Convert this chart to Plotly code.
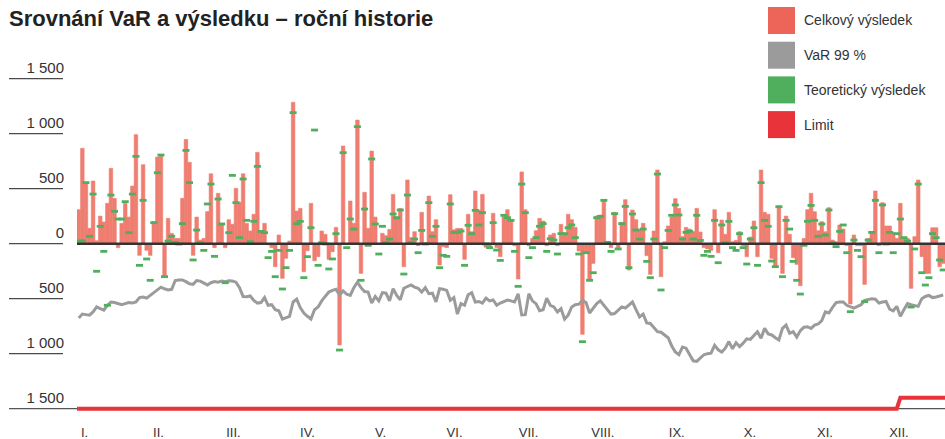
import plotly.graph_objects as go

title_text = "Srovnání VaR a výsledku – roční historie"
series_names = ["Celkový výsledek", "VaR 99 %", "Teoretický výsledek", "Limit"]
series_colors = ["#EC6558", "#9B9B9B", "#4FAF5C", "#E8333A"]

celkovy_vysledek = [
    309, 867, 557, 140, 570, 27, 251, 197, 367, 685, 412, -36, 185, 367, 242, 524, 991, -106, 718, -60,
    -106, 200, 788, 800, -300, 230, 94, 48, 48, 412, 948, 739, -106, 242, 33, 48, 291, 636, -36, 458,
    185, -36, 218, 176, 503, 376, 636, 185,
    115, 267, 830, 115, 185, -10, -36, -209, 79, -315, -133, 24, 1285, 297, 321, -255, -64, 367, -155, -118,
    115, 85, -142, -73, 148, -921, 888, -5, 388, 185, 1124, -270, 467, 139, 842, 242, 0, 94, 73, 130,
    448, 245, 321, -209, 579, 55, 109, -18, 285,
    10, 433, 109, 218, -194, -27, -36, 445, 127, 139, 139, -142, 267, 109, 479, 306, 448, -33, -42, 276,
    -36, -118, 248, 309, 218, -18, -321, 652, 309, -18, 48, 118, 230, 206, -18, 79, 94, -18, 176, 94,
    267, 218, 148, -67, -824, -73, -330, -179, 251,
    261, 397, -6, -36, 285, -48, 194, 400, -239, 306, 218, 124, 185, -109, -279, 115, 670, -300, 18, 161,
    245, 409, 321, 64, 148, 133, 109, 321, 106, -36, -48, -61, 309, -82, 215, 85, 285, 18, 30, 109,
    -18, -118, 60, 206, -118, 670, 285, 267,
    -133, -209, 342, -270, 251, 85, -127, -188, -382, 48, 309, 458, 291, 118, 200, 109, 327, 33, 18, 170,
    133, -18, -548, 79, -18, -18, -370, 48, 109, 479, -18, 373, 161, 161, 103, 48, 367, 48, 48, -406,
    64, 579, -118, -270, -270, 145, 145, -209, -179,
]

teoreticky_vysledek = [
    24, 24, 555, 67, 451, -251, 158, -70, -560, 442, 294, 224, 224, 382, 100, 451, 794, -197, 394, -139,
    -333, 191, 645, 806, -300, 24, 67, 12, -3, 182, 848, 555, -148, 124, 9, -61, 361, 542, -115, 406,
    179, -355, 100, 621, 373, 55, 588, 212,
    18, 203, 703, 112, 100, -127, -70, -300, -61, -412, -218, -61, 1191, 182, 203, -309, -118, 145, 1033, -197,
    9, -3, -230, -139, 91, -967, 827, -36, 224, 133, 1064, -333, 315, -15, 770, 179, -94, 158, 9, 42,
    270, 236, 306, -276, 442, 9, 42, -82, 121,
    -3, 373, 67, 158, -218, -106, -115, 361, 103, 103, 115, -197, 167, 91, 303, 170, 282, -3, -36, 191,
    -58, -152, 258, 236, 212, -70, -388, 542, 282, -127, -36, 55, 158, 182, -70, 45, 33, -94, 91, 91,
    145, 170, 55, -94, -891, -82, -333, -264, 236,
    248, 394, 12, -70, 273, -48, 182, 339, -218, 270, 124, 42, 133, -161, -309, 42, 633, -421, -36, 121,
    258, 352, 261, 42, 103, 112, 42, 258, 30, -106, -70, -115, 212, -173, 170, 9, 203, -36, -61, 91,
    -36, -185, 42, 145, -197, 555, 212, 158,
    -158, -209, 336, -300, 212, 133, -161, -333, -458, -15, 203, 348, 212, 67, 179, 79, 306, 9, -27, 112,
    170, -82, -618, 33, -61, -118, -527, 33, 103, 394, -82, 352, -3, 103, -82, 91, 224, 55, 24, -576,
    -48, 542, -264, -376, -309, 91, 55, -148, -239,
]

var_99 = [
    -675, -640, -645, -650, -620, -575, -590, -605, -560, -530,
    -535, -545, -555, -545, -535, -540, -530, -490, -485, -495,
    -470, -440, -420, -395, -410, -420, -415, -335, -330, -330,
    -345, -365, -370, -335, -340, -355, -375, -355, -345, -350,
    -340, -345, -338, -340, -350, -400, -480, -482, -475,
    -515, -540, -535, -490, -560, -555, -600, -610, -685, -670,
    -660, -530, -505, -580, -630, -660, -685, -600, -575, -520,
    -475, -440, -425, -415, -465, -430, -460, -470, -400, -350,
    -400, -435, -440, -540, -480, -520, -445, -450, -520, -410,
    -470, -510, -405, -390, -375, -395, -405, -440,
    -400, -455, -450, -530, -410, -415, -425, -515, -490, -640,
    -545, -560, -465, -445, -530, -525, -540, -495, -520, -512,
    -560, -540, -525, -512, -520, -530, -455, -648, -645, -455,
    -520, -545, -610, -600, -495, -560, -575, -620, -590, -685,
    -650, -575, -555, -550, -515, -535, -630, -590, -545,
    -520, -560, -600, -640, -635, -605, -575, -585, -560, -530,
    -600, -665, -640, -720, -725, -760, -800, -805, -830, -855,
    -930, -985, -1010, -940, -950, -1010, -1065, -1070, -1035, -1010,
    -1000, -995, -925, -965, -985, -950, -890, -955, -900, -935,
    -905, -865, -870, -830, -800, -860, -770, -820,
    -830, -855, -875, -770, -740, -815, -800, -850, -790, -760,
    -755, -770, -740, -730, -700, -620, -630, -580, -535, -530,
    -530, -560, -575, -585, -570, -555, -515, -510, -500, -505,
    -540, -530, -525, -595, -610, -570, -660, -600, -545, -555,
    -565, -570, -500, -480, -470, -490, -485, -473, -467,
]

limit_days = [-0.5, 229.0, 230.0, 242.5]
limit_values = [-1500, -1500, -1400, -1400]

month_labels = ["I.", "II.", "III.", "IV.", "V.", "VI.", "VII.", "VIII.", "IX.", "X.", "XI.", "XII."]
month_positions = [1.6, 22.3, 43.3, 64.0, 84.5, 105.2, 125.9, 146.7, 167.4, 187.9, 208.9, 229.6]

y_tick_values = [-1500, -1000, -500, 0, 500, 1000, 1500]
y_tick_labels = ["1 500", "1 000", "500", "0", "500", "1 000", "1 500"]

# ---- layout geometry (pixels) ----
W, H = 945, 439
ML, MR, MT, MB = 77, 0, 70, 19
PW, PH = W - ML - MR, H - MT - MB


def px(x):
    return (x - ML) / PW


def py(y):
    return (H - MB - y) / PH


FONT = "Liberation Sans, Arial, sans-serif"
n_days = len(celkovy_vysledek)
bar_color = "rgb(239,125,112)"

fig = go.Figure()
fig.add_trace(go.Bar(
    x=list(range(len(celkovy_vysledek))), y=celkovy_vysledek, name=series_names[0],
    marker=dict(color=bar_color, line=dict(width=0.6, color=bar_color)), showlegend=False,
))
fig.add_trace(go.Scatter(
    x=list(range(len(var_99))), y=var_99, name=series_names[1], mode="lines",
    line=dict(color=series_colors[1], width=3), showlegend=False,
))
fig.add_trace(go.Scatter(
    x=list(range(len(teoreticky_vysledek))), y=teoreticky_vysledek, name=series_names[2], mode="markers",
    marker=dict(symbol="line-ew", size=5, line=dict(color=series_colors[2], width=2.8)), showlegend=False,
))
fig.add_trace(go.Scatter(
    x=limit_days, y=limit_values, name=series_names[3], mode="lines",
    line=dict(color=series_colors[3], width=4), showlegend=False,
))

shapes = []
for v in y_tick_values:
    if v == y_tick_values[0]:
        shapes.append(dict(type="line", xref="paper", yref="y", x0=px(9), x1=1, y0=v, y1=v,
                           line=dict(color="#555555", width=1.4), layer="below"))
    else:
        shapes.append(dict(type="line", xref="paper", yref="y", x0=px(9), x1=px(63), y0=v, y1=v,
                           line=dict(color="#4a4a4a", width=1.3), layer="below"))
shapes.append(dict(type="line", xref="paper", yref="y", x0=0, x1=1, y0=0, y1=0,
                   line=dict(color="#333333", width=2.5), layer="above"))

annotations = []
for k, (name, col) in enumerate(zip(series_names, series_colors)):
    top = 7 + 34.7 * k
    shapes.append(dict(type="rect", xref="paper", yref="paper", x0=px(768), x1=px(795),
                       y0=py(top + 27), y1=py(top), fillcolor=col, line=dict(width=0)))
    annotations.append(dict(xref="paper", yref="paper", x=px(802), y=py(top + 13.5),
                            xanchor="left", yanchor="middle", showarrow=False, text=name,
                            font=dict(family=FONT, size=14, color="#333333")))

fig.update_layout(
    width=W, height=H,
    margin=dict(l=ML, r=MR, t=MT, b=MB, pad=0, autoexpand=False),
    paper_bgcolor="white", plot_bgcolor="white",
    bargap=0,
    title=dict(text="<b>" + title_text + "</b>", x=9 / W, xref="container", xanchor="left",
               y=1 - 18 / H, yref="container", yanchor="middle", automargin=False,
               font=dict(family=FONT, size=22, color="#222222")),
    xaxis=dict(range=[-0.5, n_days - 0.5], tickvals=month_positions, ticktext=month_labels,
               showgrid=False, zeroline=False, showline=False, ticks="", automargin=False,
               tickfont=dict(family="Liberation Sans Narrow, Liberation Sans, Arial", size=13, color="#333333"),
               ticklabelstandoff=3),
    yaxis=dict(range=[-1603, 1579], tickvals=y_tick_values, ticktext=y_tick_labels,
               showgrid=False, zeroline=False, showline=False, ticks="", automargin=False,
               tickfont=dict(family=FONT, size=15, color="#333333"),
               ticklabelstandoff=12, ticklabelshift=-11),
    shapes=shapes, annotations=annotations,
    showlegend=False,
)

fig.write_html("out.html", config={"displayModeBar": False, "staticPlot": True},
               post_script="document.body.style.margin='0';document.body.style.overflow='hidden';")
